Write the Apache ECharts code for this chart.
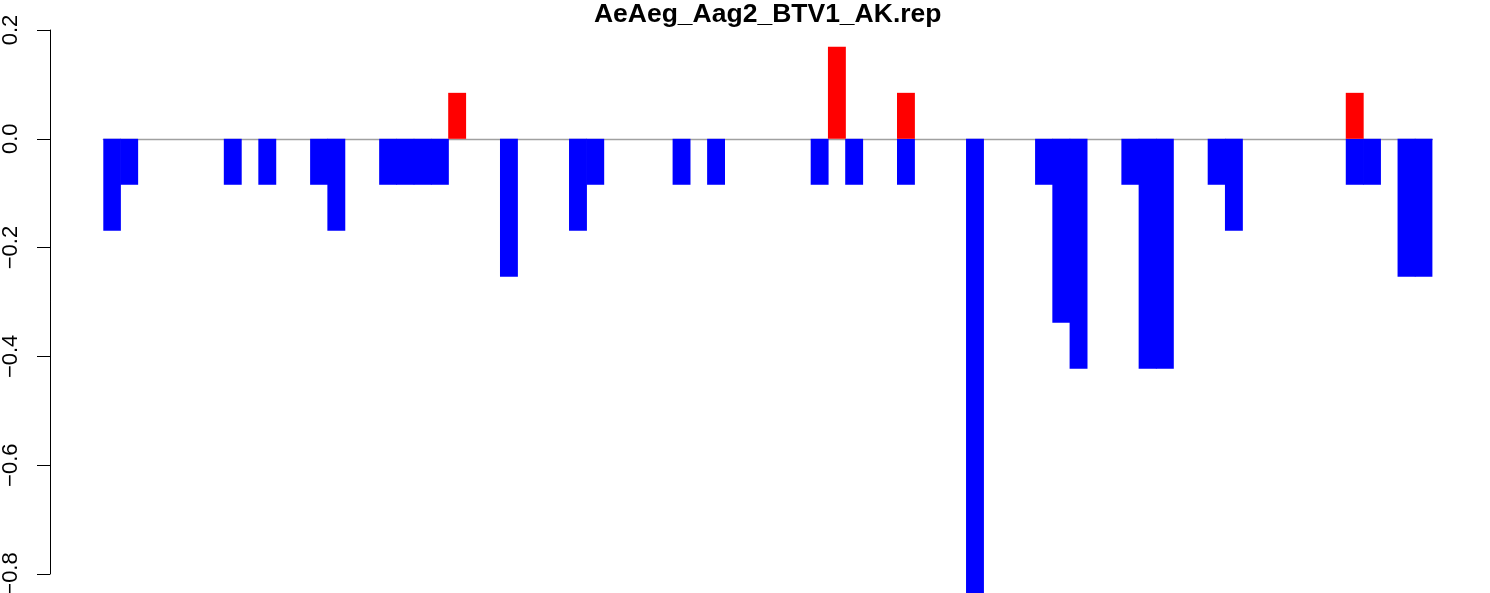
<!DOCTYPE html>
<html>
<head>
<meta charset="utf-8">
<script src="https://cdn.jsdelivr.net/npm/echarts@6/dist/echarts.min.js"></script>
<style>html,body{margin:0;padding:0;background:#fff;}#c{width:1490px;height:593px;}</style>
</head>
<body>
<div id="c"></div>
<script>
const titleText = "AeAeg_Aag2_BTV1_AK.rep";
const categories = Array.from({length: 77}, (_, i) => String(i + 1));
const negValues = [
  -0.169,-0.0845,null,null,null,null,null,-0.0845,null,-0.0845,
  null,null,-0.0845,-0.169,null,null,-0.0845,-0.0845,-0.0845,-0.0845,
  null,null,null,-0.2535,null,null,null,-0.169,-0.0845,null,
  null,null,null,-0.0845,null,-0.0845,null,null,null,null,
  null,-0.0845,null,-0.0845,null,null,-0.0845,null,null,null,
  -0.845,null,null,null,-0.0845,-0.338,-0.4225,null,null,-0.0845,
  -0.4225,-0.4225,null,null,-0.0845,-0.169,null,null,null,null,
  null,null,-0.0845,-0.0845,null,-0.2535,-0.2535
];
const posValues = [
  null,null,null,null,null,null,null,null,null,null,
  null,null,null,null,null,null,null,null,null,null,
  0.0845,null,null,null,null,null,null,null,null,null,
  null,null,null,null,null,null,null,null,null,null,
  null,null,0.169,null,null,null,0.0845,null,null,null,
  null,null,null,null,null,null,null,null,null,null,
  null,null,null,null,null,null,null,null,null,null,
  null,null,0.0845,null,null,null,null
];
const yTicks = [0.2, 0.0, -0.2, -0.4, -0.6, -0.8];

const chart = echarts.init(document.getElementById('c'), null, {renderer: 'canvas'});
chart.setOption({
  backgroundColor: '#ffffff',
  animation: false,
  textStyle: {fontFamily: 'Liberation Sans'},
  graphic: [{
    type: 'text',
    x: 767.7, y: 1,
    style: {
      text: titleText, textAlign: 'center', textVerticalAlign: 'top',
      font: 'bold 26.5px "Liberation Sans"', fill: '#000'
    }
  }],
  grid: [
    {left: 103.3, right: 57.6, top: 30, bottom: 0, outerBoundsMode: 'none', containLabel: false},
    {left: 50, width: 10, top: 30, bottom: 19, outerBoundsMode: 'none', containLabel: false}
  ],
  xAxis: [
    {type: 'category', gridIndex: 0, data: categories, boundaryGap: true,
     axisLine: {show: true, onZero: true, lineStyle: {color: '#a0a0a0', width: 1.3}},
     axisTick: {show: false}, axisLabel: {show: false}, splitLine: {show: false}},
    {type: 'value', gridIndex: 1, show: false}
  ],
  yAxis: [
    {type: 'value', gridIndex: 0, min: -0.8349, max: 0.2, show: false, splitLine: {show: false}},
    {type: 'value', gridIndex: 1, min: -0.8, max: 0.2, interval: 0.2,
     axisLine: {show: true, lineStyle: {color: '#000', width: 1}},
     axisTick: {show: true, length: 13, lineStyle: {color: '#000', width: 1}},
     splitLine: {show: false},
     axisLabel: {rotate: 90, margin: 28, fontSize: 22, color: '#000', fontFamily: 'Liberation Sans',
       showMinLabel: true, showMaxLabel: true, hideOverlap: false,
       formatter: v => {
         const t = yTicks.find(k => Math.abs(k - v) < 1e-9);
         const s = (t === undefined ? v : t).toFixed(1);
         return s.replace('-', '\u2212');
       }}}
  ],
  series: [
    {type: 'bar', xAxisIndex: 0, yAxisIndex: 0, data: negValues, barWidth: 17.9, barGap: '-100%',
     itemStyle: {color: '#0000ff'}, clip: true},
    {type: 'bar', xAxisIndex: 0, yAxisIndex: 0, data: posValues, barWidth: 17.9, barGap: '-100%',
     itemStyle: {color: '#ff0000'}, clip: true}
  ]
});
</script>
</body>
</html>
